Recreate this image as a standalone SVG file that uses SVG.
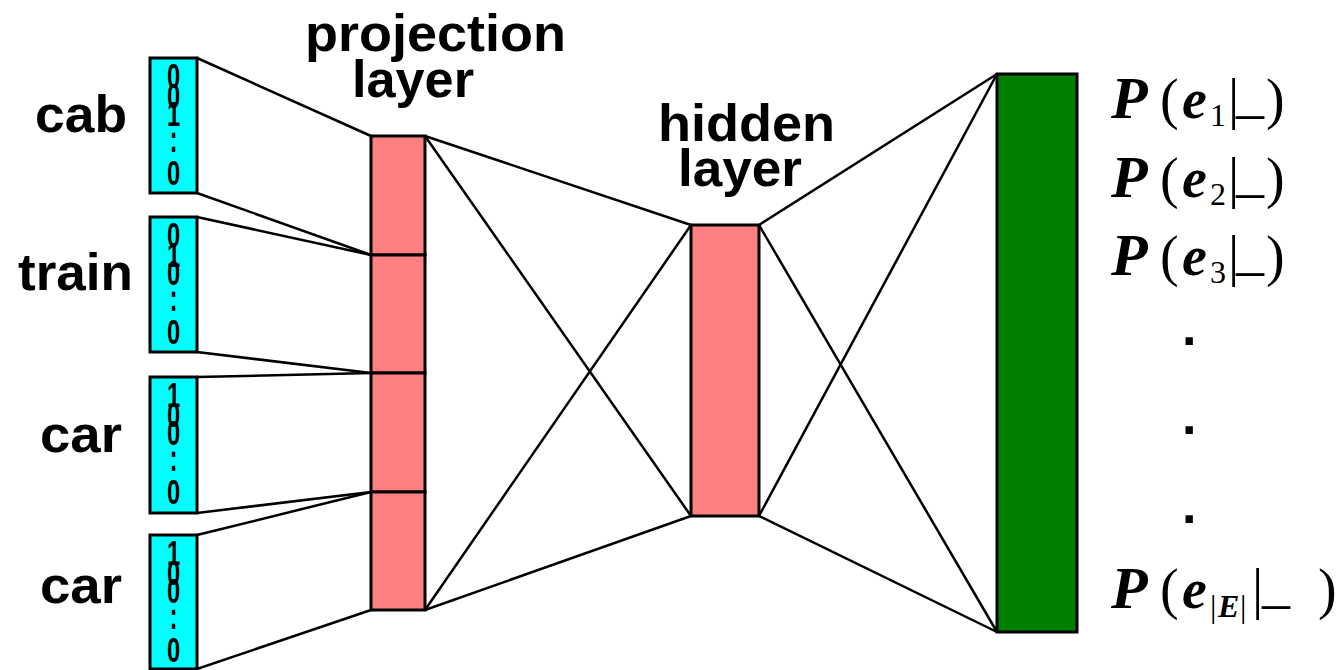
<svg xmlns="http://www.w3.org/2000/svg" width="1343" height="670" viewBox="0 0 1343 670">
  <style>
    .box { stroke: #000; stroke-width: 3; }
    .onehot { fill: #00ffff; }
    .proj { fill: #ff8080; }
    .out { fill: #008000; }
    .edge { stroke: #000; stroke-width: 2.5; fill: none; }
    .lbl { font-family: "Liberation Sans", Arial, sans-serif; font-weight: bold; font-size: 52px; fill: #000; }
    .bit { font-family: "Liberation Sans", Arial, sans-serif; font-weight: bold; font-size: 35px; fill: #000; text-anchor: middle; }
    .dot { font-family: "Liberation Sans", Arial, sans-serif; font-weight: bold; font-size: 52px; fill: #000; }
    .math { font-family: "Liberation Serif", "Times New Roman", serif; font-size: 56px; fill: #000; }
    .mi { font-weight: bold; font-style: italic; }
    .big { font-size: 60px; }
    .sub { font-size: 32px; }
  </style>
  <rect width="1343" height="670" fill="#fff"/>

  <!-- connections -->
  <g id="connectors">
    <line class="edge" x1="197" y1="58" x2="371" y2="136"/>
    <line class="edge" x1="197" y1="193" x2="371" y2="255"/>
    <line class="edge" x1="197" y1="217" x2="371" y2="255"/>
    <line class="edge" x1="197" y1="352" x2="371" y2="373"/>
    <line class="edge" x1="197" y1="377" x2="371" y2="373"/>
    <line class="edge" x1="197" y1="513" x2="371" y2="492"/>
    <line class="edge" x1="197" y1="535" x2="371" y2="492"/>
    <line class="edge" x1="197" y1="669" x2="371" y2="610"/>

    <line class="edge" x1="425" y1="136" x2="691" y2="225"/>
    <line class="edge" x1="425" y1="136" x2="691" y2="516"/>
    <line class="edge" x1="425" y1="610" x2="691" y2="225"/>
    <line class="edge" x1="425" y1="610" x2="691" y2="516"/>

    <line class="edge" x1="759" y1="225" x2="997" y2="74"/>
    <line class="edge" x1="759" y1="225" x2="997" y2="632"/>
    <line class="edge" x1="759" y1="516" x2="997" y2="74"/>
    <line class="edge" x1="759" y1="516" x2="997" y2="632"/>
  </g>

  <!-- input words as one-hot vectors (digits condensed to fit the column) -->
  <g id="word-cab">
    <text class="lbl" x="35" y="132" textLength="92" lengthAdjust="spacingAndGlyphs">cab</text>
    <rect class="box onehot" x="150" y="58" width="47" height="135"/>
    <g transform="matrix(0.68,0,0,1,173.5,58)">
      <text class="bit" y="30">0</text>
      <text class="bit" y="50">0</text>
      <text class="bit" y="68">1</text>
      <text class="bit" y="80">.</text>
      <text class="bit" y="94">.</text>
      <text class="bit" y="127">0</text>
    </g>
  </g>
  <g id="word-train">
    <text class="lbl" x="18" y="290" textLength="115" lengthAdjust="spacingAndGlyphs">train</text>
    <rect class="box onehot" x="150" y="217" width="47" height="135"/>
    <g transform="matrix(0.68,0,0,1,173.5,217)">
      <text class="bit" y="30">0</text>
      <text class="bit" y="50">1</text>
      <text class="bit" y="68">0</text>
      <text class="bit" y="80">.</text>
      <text class="bit" y="94">.</text>
      <text class="bit" y="127">0</text>
    </g>
  </g>
  <g id="word-car-1">
    <text class="lbl" x="40" y="452" textLength="82" lengthAdjust="spacingAndGlyphs">car</text>
    <rect class="box onehot" x="150" y="377" width="47" height="136"/>
    <g transform="matrix(0.68,0,0,1,173.5,377)">
      <text class="bit" y="30">1</text>
      <text class="bit" y="50">0</text>
      <text class="bit" y="68">0</text>
      <text class="bit" y="80">.</text>
      <text class="bit" y="94">.</text>
      <text class="bit" y="127">0</text>
    </g>
  </g>
  <g id="word-car-2">
    <text class="lbl" x="40" y="603" textLength="82" lengthAdjust="spacingAndGlyphs">car</text>
    <rect class="box onehot" x="150" y="535" width="47" height="134"/>
    <g transform="matrix(0.68,0,0,1,173.5,535)">
      <text class="bit" y="30">1</text>
      <text class="bit" y="50">0</text>
      <text class="bit" y="68">0</text>
      <text class="bit" y="80">.</text>
      <text class="bit" y="94">.</text>
      <text class="bit" y="127">0</text>
    </g>
  </g>

  <!-- projection layer: one slot per context word -->
  <g id="projection-layer">
    <text class="lbl" x="305" y="51" textLength="261" lengthAdjust="spacingAndGlyphs">projection</text>
    <text class="lbl" x="352" y="97" textLength="122" lengthAdjust="spacingAndGlyphs">layer</text>
    <rect class="box proj" x="371" y="136" width="54" height="119"/>
    <rect class="box proj" x="371" y="255" width="54" height="118"/>
    <rect class="box proj" x="371" y="373" width="54" height="119"/>
    <rect class="box proj" x="371" y="492" width="54" height="118"/>
  </g>

  <!-- hidden layer -->
  <g id="hidden-layer">
    <text class="lbl" x="658" y="141" textLength="177" lengthAdjust="spacingAndGlyphs">hidden</text>
    <text class="lbl" x="678" y="186" textLength="124" lengthAdjust="spacingAndGlyphs">layer</text>
    <rect class="box proj" x="691" y="225" width="68" height="291"/>
  </g>

  <!-- output layer with class probabilities -->
  <g id="output-layer">
    <rect class="box out" x="997" y="74" width="80" height="558"/>
    <text class="math" y="118"><tspan class="mi big" x="1111">P</tspan><tspan x="1160">(</tspan><tspan class="mi" x="1182">e</tspan><tspan class="sub" x="1210" dy="8">1</tspan><tspan x="1228" dy="-8">|</tspan><tspan x="1236" dy="-6">_</tspan><tspan x="1266" dy="6">)</tspan></text>
    <text class="math" y="197"><tspan class="mi big" x="1111">P</tspan><tspan x="1160">(</tspan><tspan class="mi" x="1182">e</tspan><tspan class="sub" x="1210" dy="8">2</tspan><tspan x="1228" dy="-8">|</tspan><tspan x="1236" dy="-6">_</tspan><tspan x="1266" dy="6">)</tspan></text>
    <text class="math" y="275"><tspan class="mi big" x="1111">P</tspan><tspan x="1160">(</tspan><tspan class="mi" x="1182">e</tspan><tspan class="sub" x="1210" dy="8">3</tspan><tspan x="1228" dy="-8">|</tspan><tspan x="1236" dy="-6">_</tspan><tspan x="1266" dy="6">)</tspan></text>
    <text class="dot" x="1182" y="345">.</text>
    <text class="dot" x="1182" y="434">.</text>
    <text class="dot" x="1182" y="523">.</text>
    <text class="math" y="608"><tspan class="mi big" x="1111">P</tspan><tspan x="1160">(</tspan><tspan class="mi" x="1182">e</tspan><tspan class="sub" x="1210" dy="9">|</tspan><tspan class="sub mi" x="1218">E</tspan><tspan class="sub" x="1240">|</tspan><tspan x="1252" dy="-9">|</tspan><tspan x="1262" dy="-6">_</tspan><tspan x="1318" dy="6">)</tspan></text>
  </g>
</svg>
